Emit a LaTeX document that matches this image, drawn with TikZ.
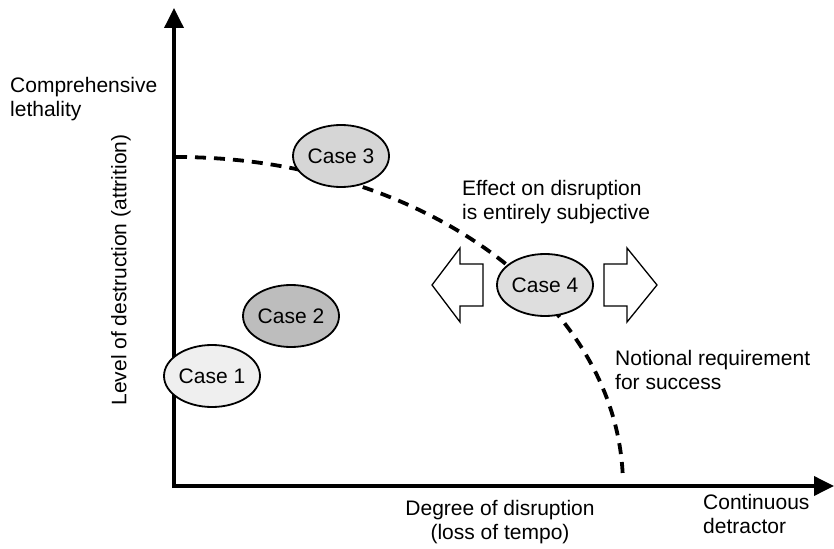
\documentclass[tikz,border=0pt]{standalone}
\usepackage{fontspec}
\setmainfont{Liberation Sans}
\usetikzlibrary{arrows.meta,shapes.geometric}
\definecolor{fillone}{HTML}{EFEFEF}
\definecolor{filltwo}{HTML}{BDBDBD}
\definecolor{fillthree}{HTML}{D6D6D6}
\definecolor{fillfour}{HTML}{DEDEDE}
\tikzset{
  axisline/.style={line width=3.6pt, -{Triangle[length=20pt,width=19pt]}},
  casebox/.style={ellipse, draw, line width=1.8pt, minimum width=96pt, minimum height=62pt, inner sep=0pt, font=\fontsize{21}{22}\selectfont},
  lbl/.style={inner sep=0pt, font=\fontsize{21}{24}\selectfont, align=left},
  blockarrow/.style={draw, fill=white, line width=1.3pt, line join=miter},
  reqcurve/.style={line width=3.8pt, dash pattern=on 11pt off 8pt}
}
\begin{document}
\begin{tikzpicture}[x=1pt,y=-1pt]
\useasboundingbox (0,0) rectangle (834,548);
% axes
\coordinate (ytip) at (174,8);
\coordinate (xtip) at (834,486);
\draw[axisline] (174,488) -- (ytip);
\draw[axisline] (172,486) -- (xtip);
% notional requirement curve
\draw[reqcurve] (176,157) arc[start angle=-90, end angle=-1.5, x radius=447, y radius=329];
% block arrows
\draw[blockarrow] (432,285) -- (460,248) -- (460,264) -- (483,264) -- (483,306) -- (460,306) -- (460,322) -- cycle;
\draw[blockarrow] (604,264) -- (627,264) -- (627,248) -- (657,285) -- (627,322) -- (627,306) -- (604,306) -- cycle;
% cases
\node[casebox, fill=fillone] (c1) at (212,376) {Case 1};
\node[casebox, fill=filltwo] (c2) at (291,316) {Case 2};
\node[casebox, fill=fillthree] (c3) at (341,156) {Case 3};
\node[casebox, fill=fillfour] (c4) at (545,285) {Case 4};
% labels
\node[lbl, anchor=north west] (top) at (10,77) {Comprehensive\\lethality};
\node[lbl, rotate=90] (ylab) at (121,270) {Level of destruction (attrition)};
\node[lbl, anchor=north west] (eff) at (462,180) {Effect on disruption\\is entirely subjective};
\node[lbl, anchor=north west] (notional) at (615,350) {Notional requirement\\for success};
\node[lbl, anchor=north, align=center] (xlab) at (500,500) {Degree of disruption\\(loss of tempo)};
\node[lbl, anchor=north west] (cont) at (703,494) {Continuous\\detractor};
\end{tikzpicture}
\end{document}
